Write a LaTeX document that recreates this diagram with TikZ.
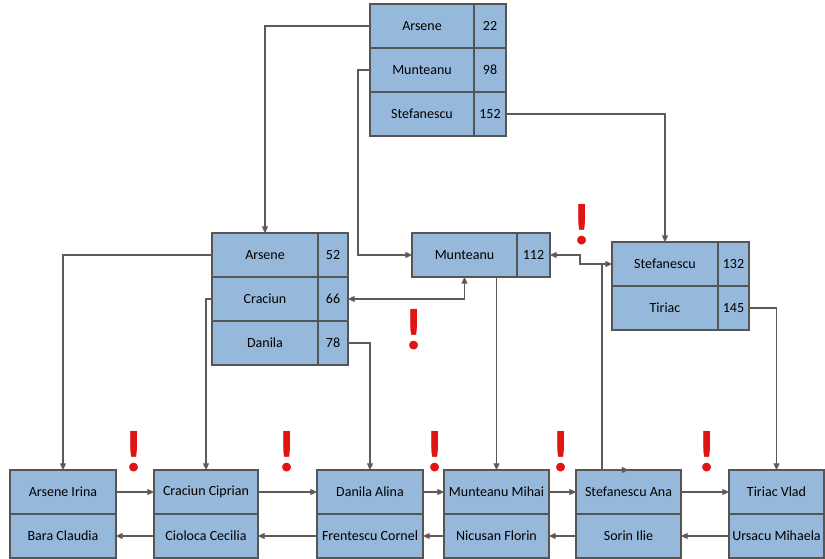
\documentclass[tikz,border=0pt]{standalone}
\usepackage{fontspec}
\setmainfont{Carlito}
\usetikzlibrary{positioning,arrows.meta}
\definecolor{cellblue}{RGB}{150,184,218}
\definecolor{cellgray}{RGB}{85,85,85}
\definecolor{linkgray}{RGB}{98,88,88}
\definecolor{bangred}{RGB}{225,20,20}

\tikzset{
  cell/.style={draw=cellgray, fill=cellblue, line width=0.8pt, inner sep=0pt, outer sep=0pt,
    minimum height=33pt, font=\fontsize{10.5}{12}\selectfont},
  namecell/.style={cell, minimum width=#1*0.75pt},
  link/.style={draw=linkgray, line width=0.9pt, -{Triangle[length=5pt,width=4.5pt]}},
  twoway/.style={link, {Triangle[length=5pt,width=4.5pt]}-{Triangle[length=5pt,width=4.5pt]}},
  bang/.style={text=bangred, font=\fontsize{44}{44}\selectfont\bfseries, inner sep=0pt}
}

\begin{document}
\begin{tikzpicture}[x=0.75pt,y=-0.75pt]
    \useasboundingbox (0,0) rectangle (825,559);
    % root
    \node[namecell=104, anchor=north west] (r1n) at (370,4) {Arsene};
    \node[namecell=32, right=0pt of r1n] (r1v) {22};
    \node[namecell=104, below=0pt of r1n] (r2n) {Munteanu};
    \node[namecell=32, right=0pt of r2n] (r2v) {98};
    \node[namecell=104, below=0pt of r2n] (r3n) {Stefanescu};
    \node[namecell=32, right=0pt of r3n] (r3v) {152};
    % middle level
    \node[namecell=106, anchor=north west] (a1n) at (212,233) {Arsene};
    \node[namecell=30, right=0pt of a1n] (a1v) {52};
    \node[namecell=106, below=0pt of a1n] (a2n) {Craciun};
    \node[namecell=30, right=0pt of a2n] (a2v) {66};
    \node[namecell=106, below=0pt of a2n] (a3n) {Danila};
    \node[namecell=30, right=0pt of a3n] (a3v) {78};
    \node[namecell=105, anchor=north west] (mn) at (412,233) {Munteanu};
    \node[namecell=33, right=0pt of mn] (mv) {112};
    \node[namecell=106, anchor=north west] (s1n) at (612,242) {Stefanescu};
    \node[namecell=31, right=0pt of s1n] (s1v) {132};
    \node[namecell=106, below=0pt of s1n] (s2n) {Tiriac};
    \node[namecell=31, right=0pt of s2n] (s2v) {145};
    % leaves
    \foreach \i/\x/\w/\up/\down in {1/10/106/Arsene Irina/Bara Claudia,
        2/154/104/Craciun Ciprian/Cioloca Cecilia,
        3/317/106/Danila Alina/Frentescu Cornel,
        4/444/105/Munteanu Mihai/Nicusan Florin,
        5/576/105/Stefanescu Ana/Sorin Ilie,
        6/729/95/Tiriac Vlad/Ursacu Mihaela} {
      \node[namecell=\w, anchor=north west] (top\i) at (\x,470) {\up};
      \node[namecell=\w, below=0pt of top\i] (bot\i) {\down};
    }
    \foreach \i/\j in {1/2,2/3,3/4,4/5,5/6} {
      \draw[link] (top\i.east) -- (top\j.west);
      \draw[link] (bot\j.west) -- (bot\i.east);
    }
    % tree links
    \draw[link] (r1n.west) -| (a1n.north);
    \draw[link] (r2n.west) -- ++(-12,0) |- (mn.west);
    \draw[link] (r3v.east) -| (s1n.north);
    \draw[link] (a1n.west) -| (top1.north);
    \draw[link] (a2n.west) -| (top2.north);
    \draw[link] (a3v.east) -| (top3.north);
    \draw[twoway] (a2v.east) -| (mn.south);
    \draw[link] (mn.south -| top4.north) -- (top4.north);
    \draw[twoway] (mv.east) -- ++(30,0) |- (s1n.west);
    \coordinate (sj) at ([xshift=-7.5pt]s1n.west);
    \draw[link] (sj) |- (top5.north);
    \draw[link] (s2v.east) -| (top6.north);
    % warnings
    \node[bang] (w1) at (134,452) {!};
    \node[bang] (w2) at (287,452) {!};
    \node[bang] (w3) at (435,452) {!};
    \node[bang] (w4) at (561,452) {!};
    \node[bang] (w5) at (707,452) {!};
    \node[bang] (w6) at (414,330) {!};
    \node[bang] (w7) at (582,225) {!};
\end{tikzpicture}
\end{document}
